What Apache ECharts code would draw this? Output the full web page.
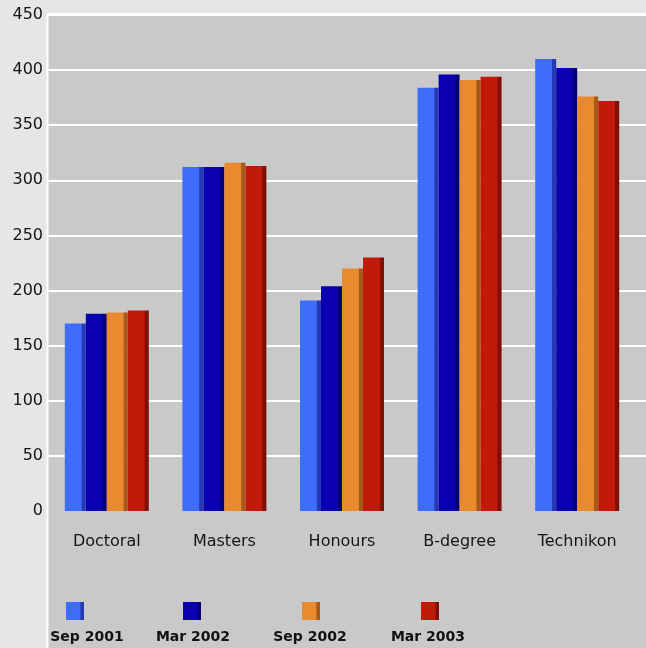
<!DOCTYPE html>
<html>
<head>
<meta charset="utf-8">
<script src="https://cdn.jsdelivr.net/npm/echarts@6/dist/echarts.min.js"></script>
<style>
  html, body { margin: 0; padding: 0; background: #e6e6e6; }
  #chart { width: 646px; height: 648px; }
</style>
</head>
<body>
<div id="chart"></div>
<script>
// Enrolment by qualification type, four survey dates
const categories = ['Doctoral', 'Masters', 'Honours', 'B-degree', 'Technikon'];
const seriesNames = ['Sep 2001', 'Mar 2002', 'Sep 2002', 'Mar 2003'];
const sep2001 = [170, 312, 191, 384, 410];
const mar2002 = [179, 312, 204, 396, 402];
const sep2002 = [180, 316, 220, 391, 376];
const mar2003 = [182, 313, 230, 394, 372];
const yTicks = [0, 50, 100, 150, 200, 250, 300, 350, 400, 450];

const seriesValues = [sep2001, mar2002, sep2002, mar2003];
// face colour and darker side edge for each series
const faceColors = ['#3e6cfb', '#0a00b2', '#e98a2e', '#c21a08'];
const edgeColors = ['#2539b4', '#05007a', '#a65a1b', '#7e1006'];

const FONT = '"DejaVu Sans", sans-serif';

function barFill(i) {
  return {
    type: 'linear', x: 0, y: 0, x2: 1, y2: 0,
    colorStops: [
      { offset: 0, color: faceColors[i] },
      { offset: 0.78, color: faceColors[i] },
      { offset: 0.82, color: edgeColors[i] },
      { offset: 1, color: edgeColors[i] }
    ]
  };
}

const chart = echarts.init(document.getElementById('chart'), null, { renderer: 'canvas' });

// legend: swatch above a bold label
const legendSwatchX = [75, 192, 311, 430];
const legendTextX = [87, 193, 310, 428];
const legendGraphics = [];
seriesNames.forEach((name, i) => {
  legendGraphics.push({
    type: 'rect', z: 10,
    shape: { x: legendSwatchX[i] - 9, y: 602, width: 18, height: 18 },
    style: { fill: barFill(i) }
  });
  legendGraphics.push({
    type: 'text', z: 10,
    x: legendTextX[i], y: 637,
    style: {
      text: name, fill: '#111', font: 'bold 14px ' + FONT,
      align: 'center', verticalAlign: 'middle'
    }
  });
});

const gridTop = 15;
const gridBottom = 137;

chart.setOption({
  backgroundColor: '#e6e6e6',
  animation: false,
  graphic: [
    // plot panel, running down behind the legend
    { type: 'rect', z: -10, shape: { x: 47, y: 14, width: 599, height: 634 }, style: { fill: '#c9c9c9' } },
    { type: 'line', z: -9, shape: { x1: 47.5, y1: 14, x2: 47.5, y2: 648 }, style: { stroke: '#ffffff', lineWidth: 2 } },
    { type: 'line', z: -9, shape: { x1: 47, y1: 14, x2: 646, y2: 14 }, style: { stroke: '#ffffff', lineWidth: 2 } }
  ].concat(legendGraphics),
  grid: [
    { left: 48, right: 10, top: gridTop, bottom: gridBottom },
    { left: 48, right: 0, top: gridTop, bottom: gridBottom }
  ],
  xAxis: [
    {
      type: 'category', gridIndex: 0, data: categories,
      axisLine: { show: false }, axisTick: { show: false },
      axisLabel: { color: '#151515', fontFamily: FONT, fontSize: 16, margin: 23 }
    },
    {
      type: 'category', gridIndex: 1, data: categories, show: false
    }
  ],
  yAxis: [
    {
      type: 'value', gridIndex: 0, min: 0, max: 450, interval: 50,
      axisLine: { show: false }, axisTick: { show: false },
      splitLine: { show: false },
      axisLabel: {
        color: '#151515', fontFamily: FONT, fontSize: 16, margin: 5,
        customValues: yTicks
      }
    },
    {
      type: 'value', gridIndex: 1, min: 0, max: 450, interval: 50,
      axisLine: { show: false }, axisTick: { show: false }, axisLabel: { show: false },
      splitLine: {
        show: true,
        lineStyle: {
          width: 2,
          color: yTicks.map(v => (v === 0 ? 'rgba(0,0,0,0)' : '#ffffff'))
        }
      }
    }
  ],
  series: seriesNames.map((name, i) => ({
    name: name,
    type: 'bar',
    xAxisIndex: 0, yAxisIndex: 0,
    data: seriesValues[i],
    barWidth: 21,
    barGap: '0%',
    itemStyle: {
      color: barFill(i),
      borderColor: 'rgba(40,20,20,0.55)',
      borderWidth: 0
    },
    emphasis: { disabled: true }
  }))
});
</script>
</body>
</html>
